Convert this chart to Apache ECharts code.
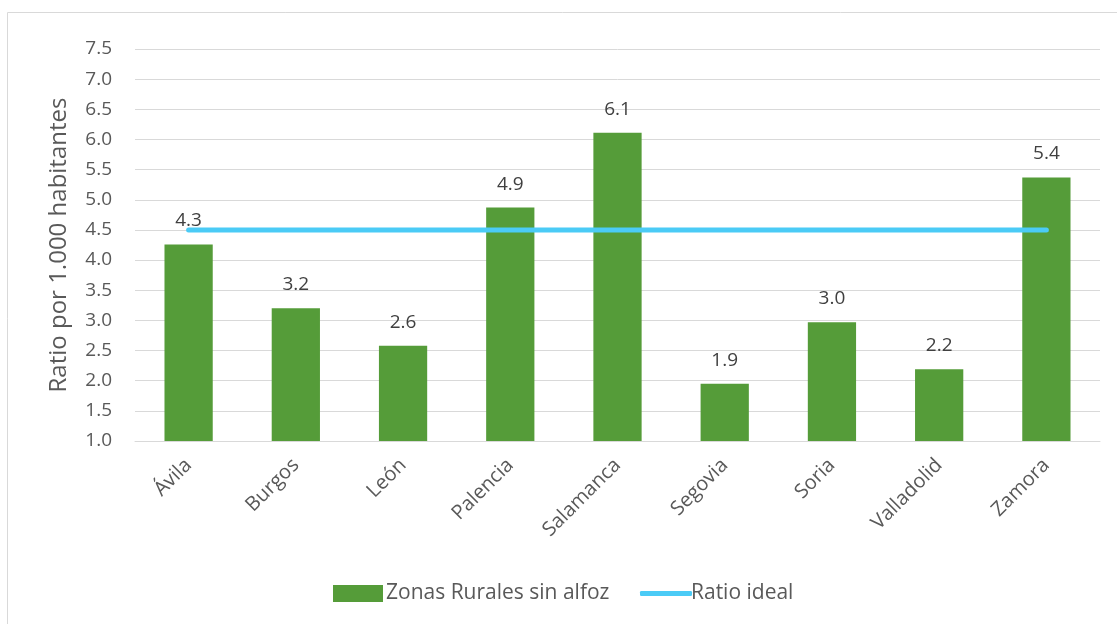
<!DOCTYPE html>
<html>
<head>
<meta charset="utf-8">
<script src="https://cdn.jsdelivr.net/npm/echarts@6/dist/echarts.min.js"></script>
<style>
  html, body { margin: 0; padding: 0; background: #fff; }
  #chart { width: 1117px; height: 624px; }
</style>
</head>
<body>
<div id="chart"></div>
<script>
// datos
const provincias = ["Ávila", "Burgos", "León", "Palencia", "Salamanca", "Segovia", "Soria", "Valladolid", "Zamora"];
const zonasRurales = [4.26, 3.2, 2.58, 4.87, 6.11, 1.95, 2.97, 2.19, 5.37];
const ratioIdeal = [4.5, 4.5, 4.5, 4.5, 4.5, 4.5, 4.5, 4.5, 4.5];

const FONT = "Open Sans";
const GREY = "#595959";
const chart = echarts.init(document.getElementById("chart"));

chart.setOption({
    animation: false,
    textStyle: { fontFamily: FONT },
    graphic: [{
        type: "rect", silent: true,
        shape: { x: 7.5, y: 12.5, width: 1130, height: 640 },
        style: { fill: "none", stroke: "#d9d9d9", lineWidth: 1 },
    }],
    grid: { left: 135, right: 17, top: 49, bottom: 183 },
    // dos leyendas para poder dar a cada icono su propio alto
    legend: [
        {
            top: 578, left: 328,
            itemWidth: 50, itemHeight: 17, itemGap: 4,
            icon: "rect",
            textStyle: { fontFamily: FONT, fontSize: 21, color: GREY, padding: [0, 0, 0, -2] },
            data: ["Zonas Rurales sin alfoz"],
        },
        {
            top: 578, left: 635,
            itemWidth: 52, itemHeight: 5,
            icon: "roundRect",
            textStyle: { fontFamily: FONT, fontSize: 21, color: GREY, padding: [0, 0, 0, -6] },
            data: ["Ratio ideal"],
        },
    ],
    xAxis: {
        type: "category", data: provincias,
        axisTick: { show: false },
        axisLine: { lineStyle: { color: "#d9d9d9", width: 1 } },
        axisLabel: { rotate: 45, fontSize: 20, color: GREY, margin: 21, fontFamily: FONT },
    },
    yAxis: {
        type: "value", min: 1, max: 7.5, interval: 0.5,
        name: "Ratio por 1.000 habitantes",
        nameLocation: "middle", nameGap: 64,
        nameTextStyle: { fontSize: 24, color: GREY, fontFamily: FONT },
        axisLine: { show: false },
        axisTick: { show: false },
        axisLabel: {
            fontSize: 19, color: GREY, margin: 23, fontFamily: FONT,
            formatter: function(v) { return v.toFixed(1); },
        },
        splitLine: { lineStyle: { color: "#d9d9d9", width: 1 } },
    },
    series: [
        {
            name: "Zonas Rurales sin alfoz", type: "bar", data: zonasRurales,
            barWidth: "45%",
            itemStyle: { color: "#559c39" },
            label: {
                show: true, position: "top", distance: 14,
                fontSize: 19, color: "#404040", fontFamily: FONT,
                formatter: function(p) { return p.value.toFixed(1); },
            },
        },
        {
            name: "Ratio ideal", type: "line", data: ratioIdeal,
            symbol: "none", z: 3,
            itemStyle: { color: "#4bcbf6" },
            lineStyle: { color: "#4bcbf6", width: 5, cap: "round" },
        },
    ],
});
</script>
</body>
</html>
